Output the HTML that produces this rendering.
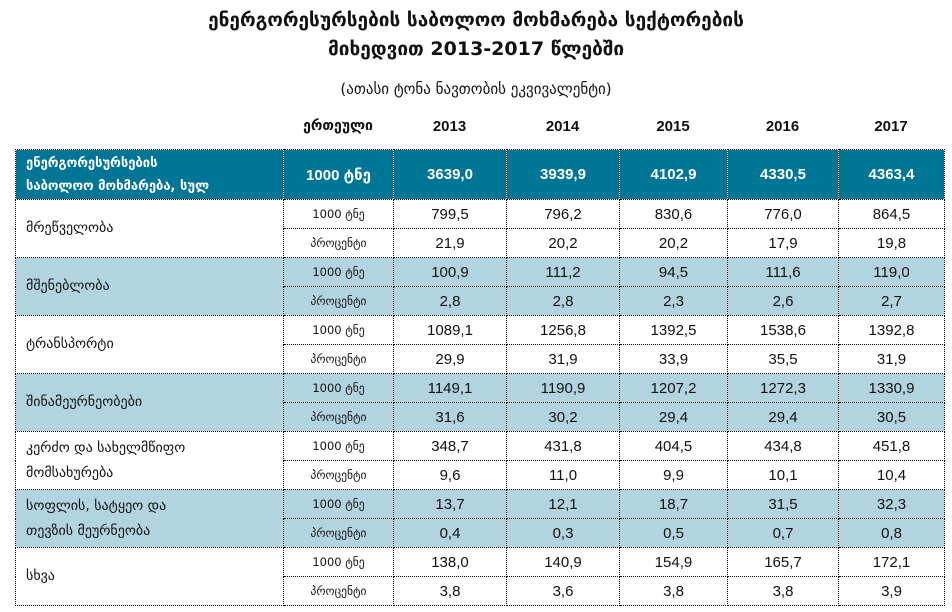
<!DOCTYPE html>
<html><head><meta charset="utf-8"><style>
body{margin:0;width:952px;height:612px;background:#fff;font-family:"Liberation Sans","DejaVu Sans",sans-serif;color:#111;position:relative;overflow:hidden}
.t{position:absolute;left:0;width:952px;text-align:center;font-weight:bold;font-size:19px;font-family:"DejaVu Sans",sans-serif}
table{position:absolute;left:15px;top:149px;border-collapse:collapse;table-layout:fixed}
td{border:1px dotted #000;text-align:center;padding:0;font-size:15px;height:28px;overflow:hidden}
td.l{text-align:left;padding-left:10px;font-family:"DejaVu Sans",sans-serif;font-size:14px;line-height:25px}
td.u{font-family:"DejaVu Sans",sans-serif;font-size:11.5px}
tr.h td{background:#007595;color:#fff;font-weight:bold;height:49px;font-size:15px}
tr.h td.l{font-size:13px;line-height:23px}
tr.b td{background:#b2d4e0}
.hd{position:absolute;top:118px;font-weight:bold;font-size:15px;text-align:center}
</style></head><body>
<div class="t" style="top:9px">ენერგორესურსების საბოლოო მოხმარება სექტორების</div>
<div class="t" style="top:38px">მიხედვით 2013-2017 წლებში</div>
<div class="t" style="top:80px;font-weight:normal;font-size:15px">(ათასი ტონა ნავთობის ეკვივალენტი)</div>
<div class="hd" style="left:283px;width:110px;font-family:'DejaVu Sans',sans-serif;font-size:14px">ერთეული</div>
<div class="hd" style="left:393px;width:113px">2013</div>
<div class="hd" style="left:506px;width:113px">2014</div>
<div class="hd" style="left:619px;width:108px">2015</div>
<div class="hd" style="left:727px;width:111px">2016</div>
<div class="hd" style="left:838px;width:106px">2017</div>
<table>
<colgroup><col style="width:268px"><col style="width:110px"><col style="width:113px"><col style="width:113px"><col style="width:108px"><col style="width:111px"><col style="width:106px"></colgroup>
<tr class="h"><td class="l">ენერგორესურსების<br>საბოლოო მოხმარება, სულ</td><td>1000 ტნე</td><td>3639,0</td><td>3939,9</td><td>4102,9</td><td>4330,5</td><td>4363,4</td></tr>
<tr><td class="l" rowspan="2">მრეწველობა</td><td class="u">1000 ტნე</td><td>799,5</td><td>796,2</td><td>830,6</td><td>776,0</td><td>864,5</td></tr>
<tr><td class="u">პროცენტი</td><td>21,9</td><td>20,2</td><td>20,2</td><td>17,9</td><td>19,8</td></tr>
<tr class="b"><td class="l" rowspan="2">მშენებლობა</td><td class="u">1000 ტნე</td><td>100,9</td><td>111,2</td><td>94,5</td><td>111,6</td><td>119,0</td></tr>
<tr class="b"><td class="u">პროცენტი</td><td>2,8</td><td>2,8</td><td>2,3</td><td>2,6</td><td>2,7</td></tr>
<tr><td class="l" rowspan="2">ტრანსპორტი</td><td class="u">1000 ტნე</td><td>1089,1</td><td>1256,8</td><td>1392,5</td><td>1538,6</td><td>1392,8</td></tr>
<tr><td class="u">პროცენტი</td><td>29,9</td><td>31,9</td><td>33,9</td><td>35,5</td><td>31,9</td></tr>
<tr class="b"><td class="l" rowspan="2">შინამეურნეობები</td><td class="u">1000 ტნე</td><td>1149,1</td><td>1190,9</td><td>1207,2</td><td>1272,3</td><td>1330,9</td></tr>
<tr class="b"><td class="u">პროცენტი</td><td>31,6</td><td>30,2</td><td>29,4</td><td>29,4</td><td>30,5</td></tr>
<tr><td class="l" rowspan="2">კერძო და სახელმწიფო<br>მომსახურება</td><td class="u">1000 ტნე</td><td>348,7</td><td>431,8</td><td>404,5</td><td>434,8</td><td>451,8</td></tr>
<tr><td class="u">პროცენტი</td><td>9,6</td><td>11,0</td><td>9,9</td><td>10,1</td><td>10,4</td></tr>
<tr class="b"><td class="l" rowspan="2">სოფლის, სატყეო და<br>თევზის მეურნეობა</td><td class="u">1000 ტნე</td><td>13,7</td><td>12,1</td><td>18,7</td><td>31,5</td><td>32,3</td></tr>
<tr class="b"><td class="u">პროცენტი</td><td>0,4</td><td>0,3</td><td>0,5</td><td>0,7</td><td>0,8</td></tr>
<tr><td class="l" rowspan="2">სხვა</td><td class="u">1000 ტნე</td><td>138,0</td><td>140,9</td><td>154,9</td><td>165,7</td><td>172,1</td></tr>
<tr><td class="u">პროცენტი</td><td>3,8</td><td>3,6</td><td>3,8</td><td>3,8</td><td>3,9</td></tr>
</table>
</body></html>
